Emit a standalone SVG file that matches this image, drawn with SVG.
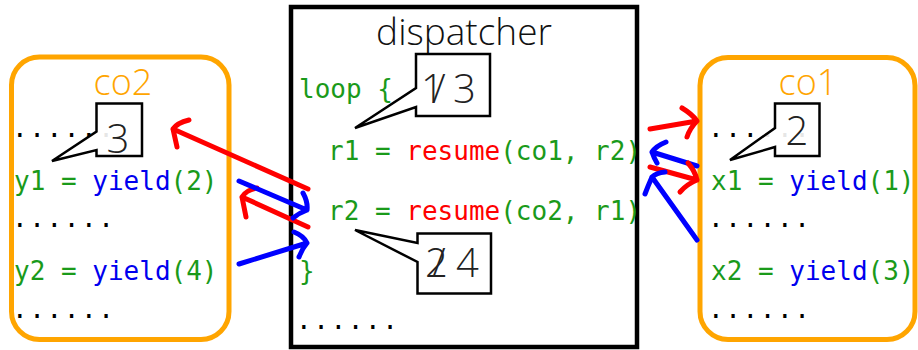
<svg xmlns="http://www.w3.org/2000/svg" width="918" height="350" viewBox="0 0 918 350">
<style>
.co{fill:#fff;stroke:#ffa500;stroke-width:5}
.disp{fill:#fff;stroke:#000;stroke-width:4.5}
.lbl{font-family:"Open Sans","DejaVu Sans",sans-serif;font-weight:300;font-size:36px;text-anchor:middle}
.num{font-family:"Open Sans","DejaVu Sans",sans-serif;font-weight:300;font-size:40px;fill:#222}
.code{font-family:"DejaVu Sans Mono","Liberation Mono",monospace;font-size:26px;fill:#1a9a1a;white-space:pre}
.dots{font-family:"DejaVu Sans Mono","Liberation Mono",monospace;font-size:26px;fill:#000;letter-spacing:1.6px}
.b{fill:#0000ee}
.r{fill:#ff0000}
.call{fill:#fff;fill-opacity:0.9;stroke:#000;stroke-width:2.5;stroke-linejoin:miter}
.red{fill:none;stroke:#ff0000;stroke-width:5;stroke-linecap:round;stroke-linejoin:round}
.blue{fill:none;stroke:#0000ff;stroke-width:5;stroke-linecap:round;stroke-linejoin:round}
</style>

<g id="dispatcher">
<rect class="disp" x="291" y="7" width="346" height="340"/>
<text class="lbl" x="464" y="45" fill="#111" style="font-size:37px">dispatcher</text>
<text class="code" x="299" y="98">loop {</text>
<text class="code" x="328" y="160">r1 = <tspan class="r">resume</tspan>(co1, r2)</text>
<text class="code" x="328" y="220">r2 = <tspan class="r">resume</tspan>(co2, r1)</text>
<text class="code" x="299" y="280">}</text>
<text class="dots" x="296" y="329">......</text>
</g>

<g id="co2">
<rect class="co" x="11.5" y="57" width="217.5" height="282.5" rx="28"/>
<text class="lbl" x="123" y="95" fill="#ffa500">co2</text>
<text class="dots" x="12" y="137">......</text>
<text class="code" x="14" y="190">y1 = <tspan class="b">yield</tspan>(2)</text>
<text class="dots" x="12" y="227">......</text>
<text class="code" x="14" y="280">y2 = <tspan class="b">yield</tspan>(4)</text>
<text class="dots" x="12" y="318">......</text>
</g>

<g id="co1">
<rect class="co" x="700" y="57.5" width="215" height="282" rx="28"/>
<text class="lbl" x="808" y="95" fill="#ffa500">co1</text>
<text class="dots" x="708" y="137">......</text>
<text class="code" x="711" y="190">x1 = <tspan class="b">yield</tspan>(1)</text>
<text class="dots" x="708" y="227">......</text>
<text class="code" x="711" y="280">x2 = <tspan class="b">yield</tspan>(3)</text>
<text class="dots" x="708" y="318">......</text>
</g>

<g id="note-3">
<path class="call" d="M96.5,103.5 H142 V156 H96.5 V150 L52,161 L96.5,131.5 Z"/>
<text class="num" x="118" y="153" text-anchor="middle">3</text>
</g>

<g id="note-2">
<path class="call" d="M775,103.5 H819.5 V156 H775 V147 L730,160 L775,128 Z"/>
<text class="num" x="797" y="145" text-anchor="middle">2</text>
</g>

<g id="note-1-3">
<path class="call" d="M416,54 H490 V116 H416 V107 L355,128 L416,88 Z"/>
<text class="num" y="103"><tspan x="421">1</tspan><tspan x="432">/</tspan><tspan x="453">3</tspan></text>
</g>

<g id="note-2-4">
<path class="call" d="M417.5,233.5 H491 V293.5 H417.5 V262 L355,230 L417.5,243 Z"/>
<text class="num" y="277"><tspan x="425">2</tspan><tspan x="432">/</tspan><tspan x="456">4</tspan></text>
</g>

<g id="connectors">
<path class="red" d="M308,189 L173,129 M189,120 Q177,123 173,129 Q175,138 177,147"/>
<path class="red" d="M308,227 L242,197 M257,188 Q246,190 242,197 Q244,207 246,217"/>
<path class="blue" d="M239,181 L307,210 M303,193 Q308,202 307,210 Q299,213 293,218"/>
<path class="blue" d="M239,264 L307,243 M294,232 Q304,236 307,243 Q302,249 299,257"/>
<path class="red" d="M650,129 L697,121 M682,108 Q692,114 697,121 Q690,128 687,137"/>
<path class="blue" d="M697,166 L652,152 M666,142 Q656,146 652,152 Q654,158 657,163"/>
<path class="red" d="M650,167 L697,180 M688,163 Q695,171 697,180 Q687,184 680,192"/>
<path class="blue" d="M697,240 L652,177 M665,172 Q656,173 652,177 Q648,186 645,194"/>
</g>
</svg>
